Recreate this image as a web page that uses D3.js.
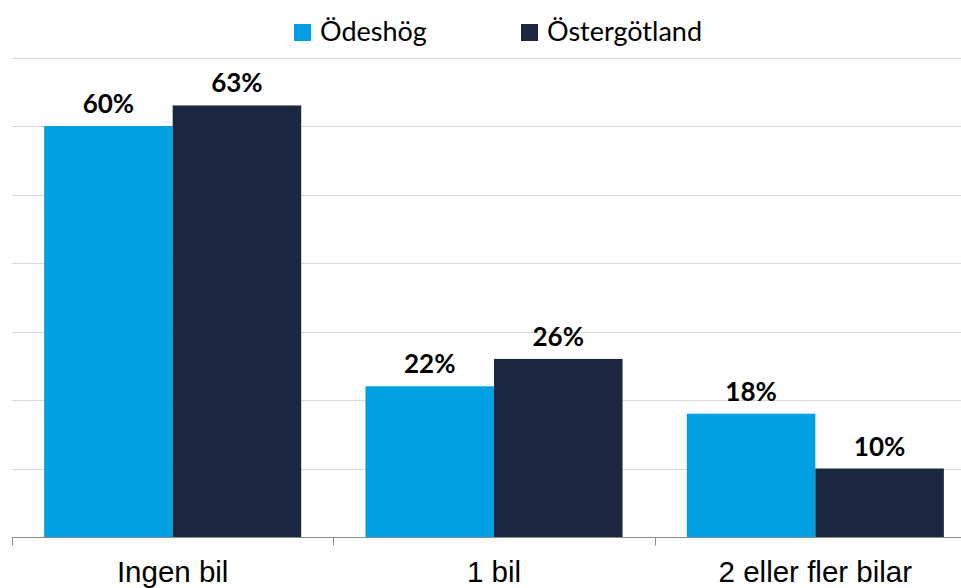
<!DOCTYPE html>
<html>
<head>
<meta charset="utf-8">
<script src="https://cdn.jsdelivr.net/npm/d3@7"></script>
<style>
  body { margin: 0; background: #fff; }
  svg { display: block; }
</style>
</head>
<body>
<svg id="chart" width="961" height="588"></svg>
<script>
var categories = ["Ingen bil", "1 bil", "2 eller fler bilar"];
var seriesNames = ["Ödeshög", "Östergötland"];
var odeshog = [60, 22, 18];
var ostergotland = [63, 26, 10];
var gridTicks = [0, 10, 20, 30, 40, 50, 60, 70];

var colors = ["#00a0e3", "#1b2640"];

var svg = d3.select("#chart");
var width = +svg.attr("width");
var height = +svg.attr("height");

var plotLeft = 12, plotRight = 976, plotTop = 57.5, plotBottom = 537;

var x = d3.scaleBand()
    .domain(categories)
    .range([plotLeft, plotRight])
    .paddingInner(0.2)
    .paddingOuter(0.1);

var x1 = d3.scaleBand()
    .domain(seriesNames)
    .range([0, x.bandwidth()]);

var y = d3.scaleLinear()
    .domain([0, 70])
    .range([plotBottom, plotTop]);

// grid
svg.append("g").selectAll("line")
  .data(gridTicks.slice(1))
  .enter().append("line")
    .attr("x1", plotLeft)
    .attr("x2", width)
    .attr("y1", function(d){ return Math.round(y(d)) + 0.5; })
    .attr("y2", function(d){ return Math.round(y(d)) + 0.5; })
    .style("stroke", "#d9d9d9")
    .style("stroke-width", 1);

var rows = categories.map(function(c, i){
  return [
    {cat: c, s: seriesNames[0], v: odeshog[i], color: colors[0]},
    {cat: c, s: seriesNames[1], v: ostergotland[i], color: colors[1]}
  ];
});

var groups = svg.append("g").selectAll("g")
  .data(rows)
  .enter().append("g")
    .attr("transform", function(d){ return "translate(" + x(d[0].cat) + ",0)"; });

groups.selectAll("rect")
  .data(function(d){ return d; })
  .enter().append("rect")
    .attr("x", function(d){ return x1(d.s); })
    .attr("y", function(d){ return y(d.v); })
    .attr("width", x1.bandwidth())
    .attr("height", function(d){ return y(0) - y(d.v); })
    .style("fill", function(d){ return d.color; });

groups.selectAll("text")
  .data(function(d){ return d; })
  .enter().append("text")
    .attr("x", function(d){ return x1(d.s) + x1.bandwidth()/2; })
    .attr("y", function(d){ return y(d.v) - 13; })
    .attr("text-anchor", "middle")
    .style("font-family", "Lato, 'Open Sans', sans-serif")
    .style("font-weight", "bold")
    .style("font-size", "26px")
    .style("fill", "#000")
    .text(function(d){ return d.v + "%"; });

// x axis
var gx = svg.append("g")
    .attr("transform", "translate(0," + (plotBottom + 0.5) + ")");
gx.append("line")
    .attr("x1", plotLeft)
    .attr("x2", width)
    .style("stroke", "#8c8c8c");
var tickPos = categories.map(function(c){ return x(c) - x.step()*x.paddingInner()/2; });
tickPos.push(plotRight);
gx.selectAll(".tk")
  .data(tickPos)
  .enter().append("line")
    .attr("class", "tk")
    .attr("x1", function(d){ return Math.round(d) + 0.5; })
    .attr("x2", function(d){ return Math.round(d) + 0.5; })
    .attr("y1", 0)
    .attr("y2", 8)
    .style("stroke", "#8c8c8c");

gx.selectAll(".lbl")
  .data(categories)
  .enter().append("text")
    .attr("class", "lbl")
    .attr("x", function(d){ return x(d) + x.bandwidth()/2; })
    .attr("y", 44.5)
    .attr("text-anchor", "middle")
    .style("font-family", "'Liberation Sans', Arial, sans-serif")
    .style("font-size", "29.5px")
    .style("fill", "#000")
    .text(function(d){ return d; });

// legend
var legendX = [294, 521];
var legend = svg.append("g").selectAll("g")
  .data(seriesNames)
  .enter().append("g")
    .attr("transform", function(d, i){ return "translate(" + legendX[i] + ",24)"; });
legend.append("rect")
    .attr("width", 17)
    .attr("height", 17)
    .style("fill", function(d, i){ return colors[i]; });
legend.append("text")
    .attr("x", 26)
    .attr("y", 17)
    .style("font-family", "Lato, 'Open Sans', sans-serif")
    .style("font-size", "27px")
    .style("fill", "#000")
    .text(function(d){ return d; });
</script>
</body>
</html>
